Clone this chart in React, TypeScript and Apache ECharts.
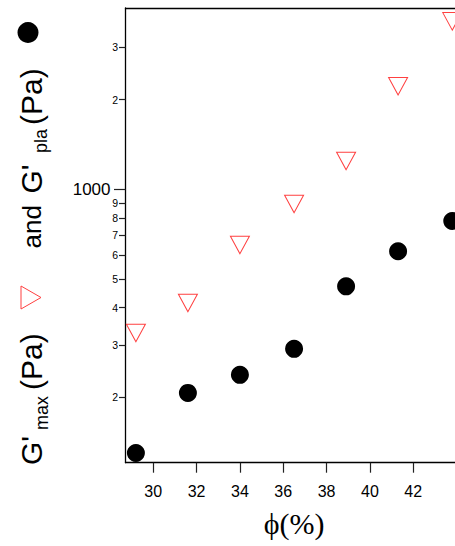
import React, { useEffect, useRef } from "react";
import * as echarts from "echarts";

// phi (%) for each sample
const phi = [29.2, 31.6, 34.0, 36.5, 38.9, 41.3, 43.8];
// G'max (Pa) – open red down-triangles
const gMax = [329, 415, 650, 893, 1245, 2220, 3668];
// G'pla (Pa) – filled black circles
const gPla = [130, 207, 238, 291, 472, 619, 783];

const xTicks = [30, 32, 34, 36, 38, 40, 42];
const yMajorTicks = [1000];
const yMinorTicks = [200, 300, 400, 500, 600, 700, 800, 900, 2000, 3000];

const X_MIN = 28.72;
const X_MAX = 45.08;
const Y_MIN = 120.6;
const Y_MAX = 4067;

const SANS = '"Liberation Sans", Arial, sans-serif';
const SERIF = '"Liberation Serif", "Times New Roman", serif';
const RED = "#ff4040";

export default function App() {
  const ref = useRef<HTMLDivElement>(null);

  useEffect(() => {
    if (!ref.current) return;
    const chart = echarts.init(ref.current, undefined, { renderer: "svg" });

    const leading = (v: number) => {
      const p = Math.pow(10, Math.floor(Math.log10(v) + 1e-9));
      return String(Math.round(v / p));
    };

    const axisLine = { show: true, lineStyle: { color: "#000", width: 1.3 } };

    const mainText = (text: string, lx: number, size: number, ly: number) => ({
      type: "text",
      x: lx,
      y: ly,
      style: {
        text,
        font: `${size}px ${SANS}`,
        fill: "#000",
        textAlign: "left",
        textVerticalAlign: "middle",
        verticalAlign: "middle",
      },
    });

    chart.setOption({
      animation: false,
      backgroundColor: "#fff",
      grid: { left: 125.5, top: 8, right: 0, bottom: 83.3, containLabel: false },
      xAxis: [
        {
          type: "value",
          min: X_MIN,
          max: X_MAX,
          position: "bottom",
          axisLine,
          splitLine: { show: false },
          axisTick: {
            show: true,
            length: 10,
            customValues: xTicks,
            lineStyle: { color: "#222", width: 1.2 },
          },
          axisLabel: {
            customValues: xTicks,
            margin: 21,
            fontSize: 16,
            fontFamily: SANS,
            color: "#000",
          },
        },
        {
          type: "value",
          min: X_MIN,
          max: X_MAX,
          position: "top",
          axisLine,
          splitLine: { show: false },
          axisTick: { show: false },
          axisLabel: { show: false },
        },
      ],
      yAxis: [
        {
          type: "log",
          min: Y_MIN,
          max: Y_MAX,
          position: "left",
          axisLine,
          splitLine: { show: false },
          minorTick: { show: false },
          axisTick: {
            show: true,
            length: 6.5,
            customValues: yMinorTicks,
            lineStyle: { color: "#222", width: 1.2 },
          },
          axisLabel: {
            customValues: yMinorTicks,
            formatter: (v: number) => leading(v),
            margin: 7.5,
            fontSize: 10.5,
            fontFamily: SANS,
            color: "#000",
          },
        },
        {
          type: "log",
          min: Y_MIN,
          max: Y_MAX,
          position: "left",
          axisLine: { show: false },
          splitLine: { show: false },
          axisTick: {
            show: true,
            length: 11.5,
            customValues: yMajorTicks,
            lineStyle: { color: "#222", width: 1.2 },
          },
          axisLabel: {
            customValues: yMajorTicks,
            formatter: (v: number) => String(Math.round(v)),
            margin: 15,
            fontSize: 17,
            fontFamily: SANS,
            color: "#000",
          },
        },
      ],
      series: [
        {
          name: "G'max",
          type: "scatter",
          xAxisIndex: 0,
          yAxisIndex: 0,
          symbol: "triangle",
          symbolRotate: 180,
          symbolSize: [19, 17.5],
          itemStyle: {
            color: "rgba(0,0,0,0)",
            borderColor: RED,
            borderWidth: 1,
            opacity: 1,
          },
          data: phi.map((x, i) => [x, gMax[i]]),
        },
        {
          name: "G'pla",
          type: "scatter",
          xAxisIndex: 0,
          yAxisIndex: 0,
          symbol: "circle",
          symbolSize: 18,
          itemStyle: { color: "#000", opacity: 1 },
          data: phi.map((x, i) => [x, gPla[i]]),
        },
      ],
      graphic: [
        {
          type: "text",
          x: 294,
          y: 523,
          style: {
            text: "ϕ(%)",
            font: `30px ${SERIF}`,
            fill: "#000",
            textAlign: "center",
            textVerticalAlign: "middle",
            verticalAlign: "middle",
          },
        },
        {
          type: "group",
          x: 0,
          y: 0,
          rotation: Math.PI / 2,
          children: [
            mainText("G'", -465, 30, 31),
            mainText("max", -430, 18, 41.7),
            mainText("(Pa)", -390, 30, 31),
            mainText("and", -248.5, 26, 32.4),
            mainText("G'", -193.5, 30, 31),
            mainText("pla", -153, 18, 41),
            mainText("(Pa)", -125, 30, 31),
          ],
        },
        {
          type: "polygon",
          shape: { points: [[21, 286], [41, 297.5], [21, 309]] },
          style: { fill: "none", stroke: RED, lineWidth: 1 },
        },
        {
          type: "circle",
          shape: { cx: 28, cy: 32.5, r: 10.5 },
          style: { fill: "#000" },
        },
      ],
    });

    return () => chart.dispose();
  }, []);

  return (
    <div
      style={{
        position: "fixed",
        left: 0,
        top: 0,
        width: 455,
        height: 546,
        overflow: "hidden",
        background: "#fff",
      }}
    >
      <div ref={ref} style={{ width: 480, height: 546 }} />
    </div>
  );
}
